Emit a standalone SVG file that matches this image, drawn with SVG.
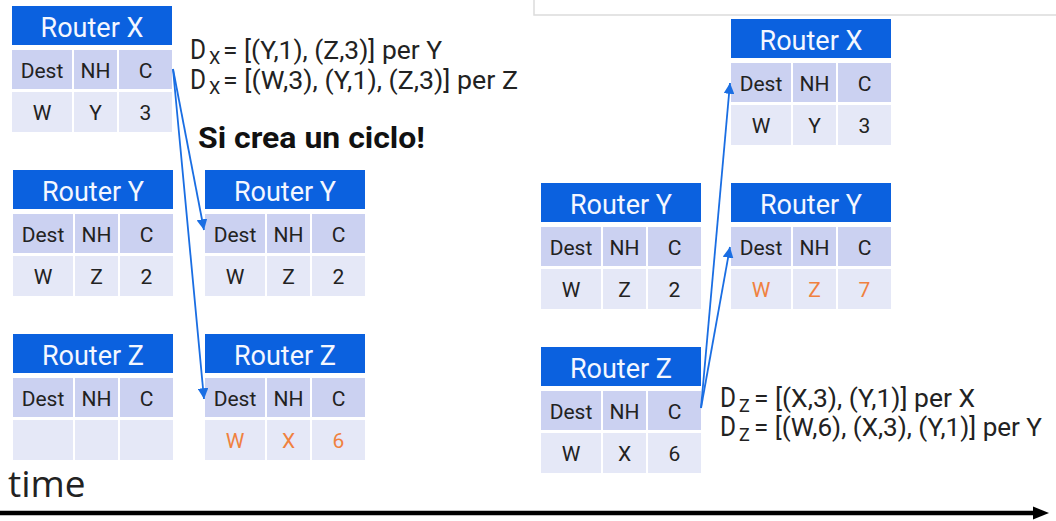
<svg xmlns="http://www.w3.org/2000/svg" width="1056" height="521" viewBox="0 0 1056 521">
<defs>
<style>
.hd{fill:#0b61df}
.r1{fill:#cbd1f1}
.r2{fill:#e5e8f7}
.ht{font-family:Roboto,"Liberation Sans",sans-serif;font-size:27px;fill:#f4f7ff;text-anchor:middle}
.ct{font-family:Roboto,"Liberation Sans",sans-serif;font-size:21px;fill:#222;text-anchor:middle}
.or{fill:#f0813f}
.tx{font-family:Roboto,"Liberation Sans",sans-serif;font-size:26.5px;fill:#222}
.dd{font-family:Roboto,"Liberation Sans",sans-serif;font-size:27px;fill:#222}
.sb{font-family:Roboto,"Liberation Sans",sans-serif;font-size:18px;fill:#222}
.bd{font-family:Roboto,"Liberation Sans",sans-serif;font-size:29px;font-weight:bold;fill:#111}
.cn{stroke:#1a6ee3;stroke-width:1.8;fill:none;marker-end:url(#ah)}
</style>
<marker id="ah" viewBox="0 0 10 10" refX="10" refY="5" markerWidth="6" markerHeight="6" markerUnits="strokeWidth" orient="auto">
<path d="M0,0 L10,5 L0,10 z" fill="#1a6ee3"/>
</marker>
<g id="tbl">
<rect class="hd" x="0" y="0" width="160" height="39"/>
<rect class="r1" x="0" y="44" width="60" height="39"/>
<rect class="r1" x="62" y="44" width="43" height="39"/>
<rect class="r1" x="107" y="44" width="53" height="39"/>
<rect class="r2" x="0" y="86" width="60" height="40"/>
<rect class="r2" x="62" y="86" width="43" height="40"/>
<rect class="r2" x="107" y="86" width="53" height="40"/>
<text class="ct" x="30" y="72">Dest</text>
<text class="ct" x="83.5" y="72">NH</text>
<text class="ct" x="133.5" y="72">C</text>
</g>
</defs>

<polyline points="534,0 534,15 1056,15" fill="none" stroke="#dcdcdc" stroke-width="1.5"/>

<g id="router-x-1" transform="translate(12,6)">
<use href="#tbl"/>
<text class="ht" x="80" y="31">Router X</text>
<text class="ct" x="30" y="114">W</text>
<text class="ct" x="83.5" y="114">Y</text>
<text class="ct" x="133.5" y="114">3</text>
</g>

<g id="router-y-1" transform="translate(13,170)">
<use href="#tbl"/>
<text class="ht" x="80" y="31">Router Y</text>
<text class="ct" x="30" y="114">W</text>
<text class="ct" x="83.5" y="114">Z</text>
<text class="ct" x="133.5" y="114">2</text>
</g>

<g id="router-z-1" transform="translate(13,334)">
<use href="#tbl"/>
<text class="ht" x="80" y="31">Router Z</text>
</g>

<g id="router-y-2" transform="translate(205,170)">
<use href="#tbl"/>
<text class="ht" x="80" y="31">Router Y</text>
<text class="ct" x="30" y="114">W</text>
<text class="ct" x="83.5" y="114">Z</text>
<text class="ct" x="133.5" y="114">2</text>
</g>

<g id="router-z-2" transform="translate(205,334)">
<use href="#tbl"/>
<text class="ht" x="80" y="31">Router Z</text>
<text class="ct or" x="30" y="114">W</text>
<text class="ct or" x="83.5" y="114">X</text>
<text class="ct or" x="133.5" y="114">6</text>
</g>

<g id="router-y-3" transform="translate(541,183)">
<use href="#tbl"/>
<text class="ht" x="80" y="31">Router Y</text>
<text class="ct" x="30" y="114">W</text>
<text class="ct" x="83.5" y="114">Z</text>
<text class="ct" x="133.5" y="114">2</text>
</g>

<g id="router-z-3" transform="translate(541,347)">
<use href="#tbl"/>
<text class="ht" x="80" y="31">Router Z</text>
<text class="ct" x="30" y="114">W</text>
<text class="ct" x="83.5" y="114">X</text>
<text class="ct" x="133.5" y="114">6</text>
</g>

<g id="router-x-4" transform="translate(731,19)">
<use href="#tbl"/>
<text class="ht" x="80" y="31">Router X</text>
<text class="ct" x="30" y="114">W</text>
<text class="ct" x="83.5" y="114">Y</text>
<text class="ct" x="133.5" y="114">3</text>
</g>

<g id="router-y-4" transform="translate(731,183)">
<use href="#tbl"/>
<text class="ht" x="80" y="31">Router Y</text>
<text class="ct or" x="30" y="114">W</text>
<text class="ct or" x="83.5" y="114">Z</text>
<text class="ct or" x="133.5" y="114">7</text>
</g>

<g id="connectors">
<line class="cn" x1="173" y1="69" x2="204" y2="230"/>
<line class="cn" x1="173" y1="69" x2="204" y2="399"/>
<line class="cn" x1="701" y1="408" x2="730" y2="83"/>
<line class="cn" x1="701" y1="408" x2="730" y2="247"/>
</g>

<g id="labels">
<text class="dd" x="190" y="59" textLength="16" lengthAdjust="spacingAndGlyphs">D</text>
<text class="sb" x="209" y="64">X</text>
<text class="tx" x="223" y="59" textLength="219" lengthAdjust="spacingAndGlyphs">= [(Y,1), (Z,3)] per Y</text>
<text class="dd" x="190" y="89" textLength="16" lengthAdjust="spacingAndGlyphs">D</text>
<text class="sb" x="209" y="94">X</text>
<text class="tx" x="223" y="89" textLength="295" lengthAdjust="spacingAndGlyphs">= [(W,3), (Y,1), (Z,3)] per Z</text>
<text class="bd" x="198" y="148" textLength="227" lengthAdjust="spacingAndGlyphs">Si crea un ciclo!</text>

<text class="dd" x="720" y="407" textLength="16" lengthAdjust="spacingAndGlyphs">D</text>
<text class="sb" x="739" y="412">Z</text>
<text class="tx" x="754" y="407" textLength="221" lengthAdjust="spacingAndGlyphs">= [(X,3), (Y,1)] per X</text>
<text class="dd" x="720" y="436" textLength="16" lengthAdjust="spacingAndGlyphs">D</text>
<text class="sb" x="739" y="441">Z</text>
<text class="tx" x="754" y="436" textLength="288" lengthAdjust="spacingAndGlyphs">= [(W,6), (X,3), (Y,1)] per Y</text>
</g>

<g id="time-axis">
<text x="8" y="497" font-family="'Open Sans',sans-serif" font-size="37" fill="#222">time</text>
<line x1="0" y1="513" x2="1036" y2="513" stroke="#000" stroke-width="4.5"/>
<polygon points="1033,506.5 1049,513 1033,519.5" fill="#000"/>
</g>
</svg>
